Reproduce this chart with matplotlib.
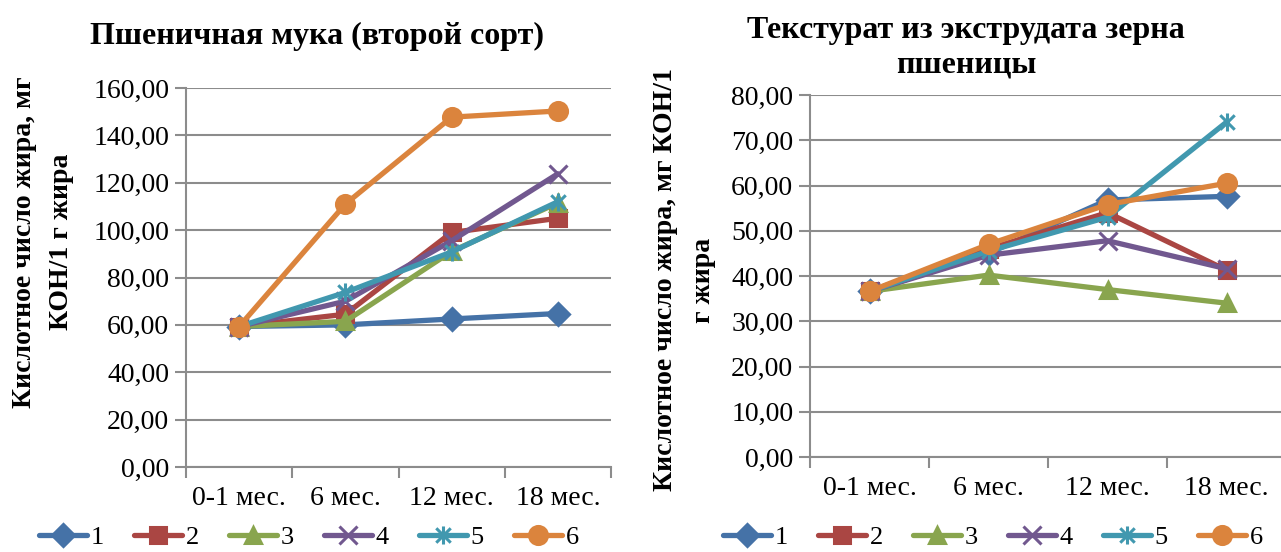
import matplotlib.pyplot as plt
import numpy as np
from matplotlib.path import Path
from matplotlib.ticker import FuncFormatter, FixedLocator

plt.rcParams["font.family"] = ["Liberation Serif", "DejaVu Serif"]

periods = ["0-1 мес.", "6 мес.", "12 мес.", "18 мес."]
series_names = ["1", "2", "3", "4", "5", "6"]

# Пшеничная мука (второй сорт)
flour_1 = [59.3, 60.0, 62.5, 64.8]
flour_2 = [59.3, 64.5, 99.0, 105.0]
flour_3 = [59.3, 61.5, 91.0, 111.5]
flour_4 = [59.3, 70.0, 95.5, 123.8]
flour_5 = [59.3, 73.7, 90.8, 112.0]
flour_6 = [59.3, 111.0, 147.7, 150.3]

# Текстурат из экструдата зерна пшеницы
text_1 = [36.6, 45.0, 56.8, 57.6]
text_2 = [36.6, 46.0, 54.0, 41.3]
text_3 = [36.6, 40.2, 37.0, 34.0]
text_4 = [36.6, 44.6, 47.8, 41.6]
text_5 = [36.6, 45.5, 53.0, 74.0]
text_6 = [36.6, 47.0, 55.8, 60.5]

colors = ["#4572A7", "#AA4643", "#89A54E", "#71588F", "#4198AF", "#DB843D"]

# excel-style asterisk: an x with a vertical bar through it
star = Path(
    [(-1, -1), (1, 1), (-1, 1), (1, -1), (0, -1.25), (0, 1.25)],
    [Path.MOVETO, Path.LINETO, Path.MOVETO, Path.LINETO, Path.MOVETO, Path.LINETO],
)
markers = ["D", "s", "^", "x", star, "o"]
msizes = [11, 11, 12, 13, 13, 13]

grid_col = "#8C8C8C"


def fmt(v, _):
    return f"{v:.2f}".replace(".", ",")


def draw(ax, data, ymax, ystep):
    x = np.arange(len(periods))
    for vals, c, m, ms in zip(data, colors, markers, msizes):
        ax.plot(x, vals, color=c, lw=3.8, marker=m, ms=ms, mew=2.2,
                mec=c, mfc=c, solid_capstyle="round", zorder=3)
    ax.set_xlim(-0.5, len(periods) - 0.5)
    ax.set_ylim(0, ymax)
    ax.set_yticks(np.arange(0, ymax + 0.1, ystep))
    ax.yaxis.set_major_formatter(FuncFormatter(fmt))
    ax.set_xticks(x)
    ax.set_xticklabels(periods)
    ax.xaxis.set_minor_locator(FixedLocator(np.arange(-0.5, len(periods), 1.0)))
    ax.tick_params(axis="x", which="major", length=0, pad=14, labelsize=20)
    ax.tick_params(axis="x", which="minor", length=8, width=1.5, color=grid_col)
    ax.tick_params(axis="y", length=8, width=1.5, color=grid_col, labelsize=20, pad=4)
    ax.grid(axis="y", color=grid_col, lw=1.5)
    ax.set_axisbelow(True)
    for s in ("top", "right"):
        ax.spines[s].set_visible(False)
    for s in ("left", "bottom"):
        ax.spines[s].set_color(grid_col)
        ax.spines[s].set_linewidth(1.5)


fig = plt.figure(figsize=(12.81, 5.52), dpi=100)

ax1 = fig.add_axes([186 / 1281, 85 / 552, 425 / 1281, 379 / 552])
draw(ax1, [flour_1, flour_2, flour_3, flour_4, flour_5, flour_6], 160, 20)
ax1.set_title("Пшеничная мука (второй сорт)", fontsize=23, fontweight="bold",
              x=(317 - 186) / 425, pad=32)
fig.text(25 / 1281, 1 - 242 / 552, "Кислотное число жира, мг", rotation=90,
         fontsize=20, fontweight="bold", ha="center", va="center")
fig.text(62 / 1281, 1 - 242 / 552, "КОН/1 г жира", rotation=90,
         fontsize=20, fontweight="bold", ha="center", va="center")

ax2 = fig.add_axes([810 / 1281, 95 / 552, 476 / 1281, 362 / 552])
draw(ax2, [text_1, text_2, text_3, text_4, text_5, text_6], 80, 10)
fig.text(966 / 1281, 1 - 48 / 552, "Текстурат из экструдата зерна\nпшеницы",
         fontsize=23, fontweight="bold", ha="center", va="center", linespacing=1.25)
fig.text(665 / 1281, 1 - 280 / 552, "Кислотное число жира, мг КОН/1", rotation=90,
         fontsize=20, fontweight="bold", ha="center", va="center")
fig.text(703 / 1281, 1 - 280 / 552, "г жира", rotation=90,
         fontsize=20, fontweight="bold", ha="center", va="center")

handles = ax1.get_lines()
for cx in (309, 993):
    fig.legend(handles, series_names, loc="center", ncol=6,
               bbox_to_anchor=(cx / 1281, 1 - 537 / 552), frameon=False,
               fontsize=19, handlelength=1.8, handletextpad=0.15,
               columnspacing=1.15, borderaxespad=0, borderpad=0)

fig.savefig("out.png", dpi=100)
